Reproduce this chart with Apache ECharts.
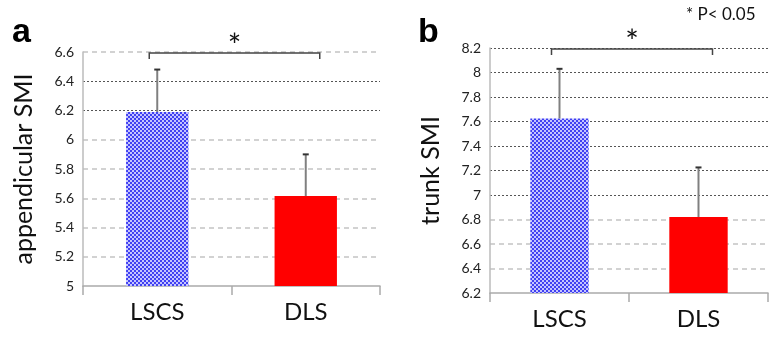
<!DOCTYPE html>
<html><head><meta charset="utf-8">
<script src="https://cdn.jsdelivr.net/npm/echarts@6/dist/echarts.min.js"></script>
<style>html,body{margin:0;padding:0;background:#fff}#c{width:773px;height:338px}</style>
</head><body><div id="c"></div>
<script>
const categories = ['LSCS', 'DLS'];
const meanA = [6.19, 5.615];
const errTopA = [6.48, 5.90];
const meanB = [7.625, 6.82];
const errTopB = [8.03, 7.225];
const yMinA = 5, yMaxA = 6.6, yMinB = 6.2, yMaxB = 8.2, yStep = 0.2;
const darkGridA = [6.2, 6.4];
const lightGridA = [5.2, 5.4, 5.6, 5.8, 6.0, 6.6];
const darkGridB = [7.0, 7.2, 7.4, 7.6, 7.8, 8.0, 8.2];
const lightGridB = [6.4, 6.6, 6.8];
const sigLevelA = 6.6, sigLevelB = 8.2;

const FONT = 'Lato, "Open Sans", sans-serif';
const chart = echarts.init(document.getElementById('c'), null, {renderer: 'canvas'});

// checkered blue pattern
const pc = document.createElement('canvas');
pc.width = 4; pc.height = 4;
const pctx = pc.getContext('2d');
pctx.fillStyle = '#c4c4ff'; pctx.fillRect(0, 0, 4, 4);
pctx.fillStyle = '#4040f2';
pctx.fillRect(0, 0, 2, 2); pctx.fillRect(2, 2, 2, 2);
const bluePattern = {image: pc, repeat: 'repeat'};
const barColors = [bluePattern, '#ff0000'];

function gridLines(dark, light) {
  return dark.map(v => ({yAxis: v, lineStyle: {color: '#555', type: [2, 2], width: 1}}))
    .concat(light.map(v => ({yAxis: v, lineStyle: {color: '#c4c4c4', type: [5, 4], width: 1.5}})));
}

function yAxisCfg(idx, min, max, name) {
  return {
    gridIndex: idx, type: 'value', min: min, max: max, interval: yStep,
    name: name, nameLocation: 'middle', nameGap: 47,
    nameTextStyle: {fontFamily: FONT, fontSize: 25, color: '#111'},
    axisLine: {show: true, lineStyle: {color: '#bbb', width: 1.5}},
    axisTick: {show: false},
    splitLine: {show: false},
    axisLabel: {fontFamily: FONT, fontSize: 14, color: '#222', margin: 9}
  };
}
function xAxisCfg(idx) {
  return {
    gridIndex: idx, type: 'category', data: categories,
    axisLine: {lineStyle: {color: '#aaa', width: 1.5}},
    axisTick: {show: true, length: 9, lineStyle: {color: '#aaa', width: 1.5}},
    axisLabel: {fontFamily: FONT, fontSize: 24, color: '#111', margin: 14}
  };
}
function barSeries(idx, vals, dark, light) {
  return {
    type: 'bar', xAxisIndex: idx, yAxisIndex: idx, barWidth: '42%',
    data: vals.map((v, i) => ({value: v, itemStyle: {color: barColors[i]}})),
    markLine: {silent: true, symbol: 'none', label: {show: false}, data: gridLines(dark, light), z: 0},
    z: 2
  };
}
function errSeries(idx, tops, means) {
  return {
    type: 'custom', xAxisIndex: idx, yAxisIndex: idx, z: 3,
    data: tops.map((t, i) => [i, means[i], t]),
    renderItem: function (params, api) {
      const b = api.coord([api.value(0), api.value(1)]);
      const t = api.coord([api.value(0), api.value(2)]);
      return {type: 'group', children: [
        {type: 'line', shape: {x1: b[0], y1: b[1], x2: t[0], y2: t[1]}, style: {stroke: '#808080', lineWidth: 2}},
        {type: 'line', shape: {x1: t[0] - 3, y1: t[1], x2: t[0] + 3, y2: t[1]}, style: {stroke: '#333', lineWidth: 2}}
      ]};
    }
  };
}
function sigSeries(idx, level) {
  return {
    type: 'custom', xAxisIndex: idx, yAxisIndex: idx, z: 4,
    data: [[0, level]],
    renderItem: function (params, api) {
      const l = api.coord([0, api.value(1)]);
      const r = api.coord([1, api.value(1)]);
      const x1 = l[0] - 8, x2 = r[0] + 14, y = l[1] + 1;
      return {type: 'group', children: [
        {type: 'polyline', shape: {points: [[x1, y + 6], [x1, y], [x2, y], [x2, y + 6]]}, style: {stroke: '#444', lineWidth: 1.5, fill: null}},
        {type: 'text', style: {text: '*', x: (x1 + x2) / 2, y: y - 6, textAlign: 'center', textVerticalAlign: 'middle', font: '32px ' + FONT, fill: '#111'}}
      ]};
    }
  };
}

chart.setOption({
  animation: false,
  grid: [
    {left: 83, top: 52, right: 393, bottom: 52},
    {left: 490, top: 48, right: 5, bottom: 45}
  ],
  xAxis: [xAxisCfg(0), xAxisCfg(1)],
  yAxis: [yAxisCfg(0, yMinA, yMaxA, 'appendicular SMI'), yAxisCfg(1, yMinB, yMaxB, 'trunk SMI')],
  graphic: [
    {type: 'text', left: 12, top: 16, style: {text: 'a', font: 'bold 34px Arial, "Liberation Sans", sans-serif', fill: '#000'}},
    {type: 'text', left: 418, top: 16, style: {text: 'b', font: 'bold 34px Arial, "Liberation Sans", sans-serif', fill: '#000'}},
    {type: 'text', left: 686, top: 6, style: {text: '* P< 0.05', font: '17px ' + FONT, fill: '#111'}}
  ],
  series: [
    barSeries(0, meanA, darkGridA, lightGridA),
    errSeries(0, errTopA, meanA),
    sigSeries(0, sigLevelA),
    barSeries(1, meanB, darkGridB, lightGridB),
    errSeries(1, errTopB, meanB),
    sigSeries(1, sigLevelB)
  ]
});
</script></body></html>
